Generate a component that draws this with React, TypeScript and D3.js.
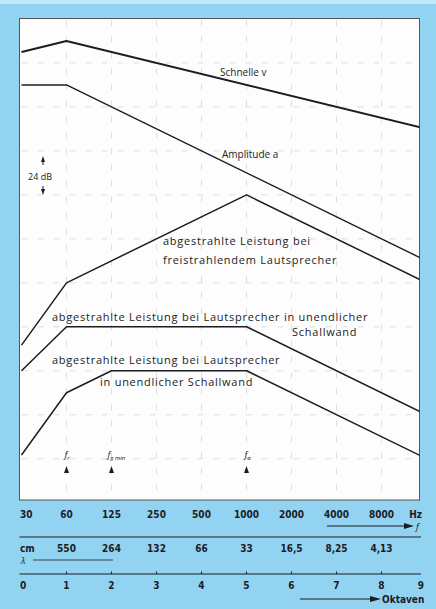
import React from "react";
import * as d3 from "d3";

// ---- data (octave index, relative level in dB) ----
const schnelle: [number, number][] = [[0, -6], [1, 0], [9, -48]];
const amplitude: [number, number][] = [[0, -24], [1, -24], [9, -120]];
const freistrahlend: [number, number][] = [[0, -166], [1, -132], [5, -84], [9, -132]];
const schallwand1: [number, number][] = [[0, -180], [1, -156], [5, -156], [9, -204]];
const schallwand2: [number, number][] = [[0, -226], [1, -192], [2, -180], [5, -180], [9, -228]];

const hzLabels = ["30", "60", "125", "250", "500", "1000", "2000", "4000", "8000"];
const cmLabels = ["550", "264", "132", "66", "33", "16,5", "8,25", "4,13"];
const octaveLabels = ["0", "1", "2", "3", "4", "5", "6", "7", "8", "9"];
const gridDb = [-12, -36, -60, -84, -108, -132, -156, -180, -204, -228];

const W = 436, H = 609;
const PL = 19.5, PR = 419.5, PT = 18.5, PB = 500;
const BLUE = "#93d3f2";
const INK = "#1c1c24";

export default function App() {
  const x = d3.scaleLinear().domain([0, 9]).range([21.5, 426.5]);
  const y = d3.scaleLinear().domain([12, -250]).range([19, 499]);
  const line = d3.line<[number, number]>().x(d => x(d[0])).y(d => y(d[1]));
  const series = [
    { d: schnelle, w: 2 },
    { d: amplitude, w: 1.4 },
    { d: freistrahlend, w: 1.5 },
    { d: schallwand1, w: 1.5 },
    { d: schallwand2, w: 1.5 },
  ];
  const lf = "'Open Sans', 'DejaVu Sans', sans-serif";
  const bf = "'DejaVu Sans Condensed', 'Liberation Sans Narrow', 'DejaVu Sans', sans-serif";
  const octs = d3.range(0, 10);
  const tri = (cx: number, ty: number, up = true, w = 2.5, h = 7) =>
    up ? `M${cx},${ty} L${cx + w},${ty + h} L${cx - w},${ty + h} Z` : `M${cx},${ty} L${cx + w},${ty - h} L${cx - w},${ty - h} Z`;

  return (
    <svg width={W} height={H} style={{ position: "fixed", left: 0, top: 0 }}>
      <defs>
        <clipPath id="plot">
          <rect x={PL} y={PT} width={PR - PL} height={PB - PT} />
        </clipPath>
      </defs>
      <rect x={0} y={0} width={W} height={H} fill={BLUE} />
      <rect x={0} y={0} width={W} height={4} fill="#c4e8f8" />
      <rect x={PL} y={PT} width={PR - PL} height={PB - PT} fill="#fdfdfd" stroke="#555" strokeWidth={1} />

      {/* faint grid */}
      <g stroke="#d4d4d4" strokeWidth={0.8} strokeDasharray="6 10">
        {octs.slice(1, 9).map(o => (
          <line key={o} x1={x(o)} x2={x(o)} y1={PT + 2} y2={PB - 2} />
        ))}
        {gridDb.map(g => (
          <line key={g} x1={PL + 2} x2={PR - 2} y1={y(g)} y2={y(g)} />
        ))}
      </g>

      <g clipPath="url(#plot)" fill="none" stroke={INK} strokeLinejoin="round">
        {series.map((s, i) => (
          <path key={i} d={line(s.d) || ""} strokeWidth={s.w} />
        ))}
      </g>

      {/* curve labels */}
      <g fontFamily={lf} fontSize={10} fill={INK}>
        <text x={220} y={76}>Schnelle v</text>
        <text x={222} y={158}>Amplitude a</text>
      </g>
      <g fontFamily={lf} fontSize={11} letterSpacing={0.75} fill={INK}>
        <text x={163} y={245}>abgestrahlte Leistung bei</text>
        <text x={163} y={264}>freistrahlendem Lautsprecher</text>
        <text x={52} y={320.5}>abgestrahlte Leistung bei Lautsprecher in unendlicher</text>
        <text x={292} y={335.5}>Schallwand</text>
        <text x={52} y={364}>abgestrahlte Leistung bei Lautsprecher</text>
        <text x={100} y={385.5}>in unendlicher Schallwand</text>
      </g>

      {/* 24 dB marker */}
      <g fill={INK}>
        <path d={tri(43, 156, true, 2, 6)} />
        <line x1={43} x2={43} y1={160} y2={165} stroke={INK} strokeWidth={1} />
        <text x={28} y={180} fontFamily={lf} fontSize={9}>24 dB</text>
        <line x1={43} x2={43} y1={186} y2={191} stroke={INK} strokeWidth={1} />
        <path d={tri(43, 195, false, 2, 6)} />
      </g>

      {/* frequency markers */}
      <g fill={INK} fontFamily={lf} fontStyle="italic" fontSize={9}>
        <text x={x(1) - 2} y={458}>f<tspan fontSize={6} dy={2}>r</tspan></text>
        <text x={x(2) - 4} y={458}>f<tspan fontSize={6} dy={2}>g min</tspan></text>
        <text x={x(5) - 2} y={458}>f<tspan fontSize={6} dy={2}>a</tspan></text>
        {[1, 2, 5].map(o => (
          <path key={o} d={tri(x(o), 466, true, 2.5, 7)} />
        ))}
      </g>

      {/* bottom scales */}
      <g fontFamily={bf} fontWeight="bold" fontSize={10} fill={INK}>
        {hzLabels.map((t, i) => (
          <text key={t} x={i === 0 ? 20 : x(i)} y={518} textAnchor={i === 0 ? "start" : "middle"}>{t}</text>
        ))}
        <text x={422} y={518} textAnchor="end">Hz</text>

        <text x={20} y={552}>cm</text>
        {cmLabels.map((t, i) => (
          <text key={t} x={x(i + 1)} y={552} textAnchor="middle">{t}</text>
        ))}

        {octaveLabels.map((t, i) => (
          <text key={t} x={i === 0 ? 20 : i === 9 ? 424 : x(i)} y={589}
            textAnchor={i === 0 ? "start" : i === 9 ? "end" : "middle"}>{t}</text>
        ))}
        <text x={382} y={603}>Oktaven</text>
      </g>

      {/* rules and arrows */}
      <g stroke={INK} fill="none">
        <line x1={PL} x2={421} y1={537} y2={537} strokeWidth={1.2} />
        <line x1={PL} x2={421} y1={574} y2={574} strokeWidth={1.2} />
        {octs.slice(1, 9).map(o => (
          <line key={o} x1={x(o)} x2={x(o)} y1={571.5} y2={574} strokeWidth={1} />
        ))}
        <line x1={327} x2={406} y1={526} y2={526} strokeWidth={1} />
        <line x1={33} x2={113} y1={560} y2={560} strokeWidth={0.8} />
        <line x1={300} x2={372} y1={599} y2={599} strokeWidth={1} />
      </g>
      <g fill={INK}>
        <path d="M414,526 L404,523 L404,529 Z" />
        <path d="M381,599 L370,596 L370,602 Z" />
        <text x={416} y={530} fontFamily={lf} fontStyle="italic" fontSize={9}>f</text>
        <text x={21} y={564} fontFamily={lf} fontStyle="italic" fontSize={9}>λ</text>
      </g>
    </svg>
  );
}
